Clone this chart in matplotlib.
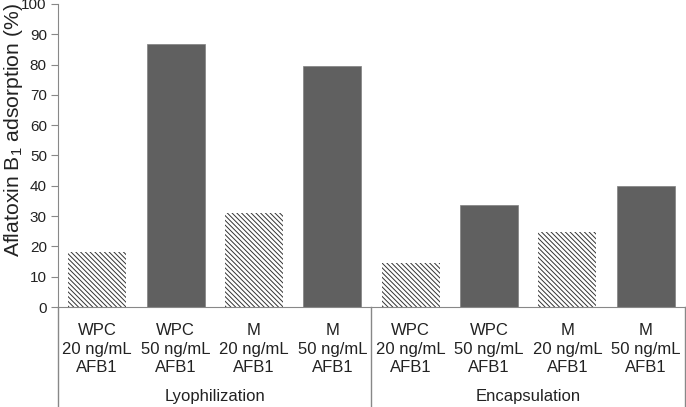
import numpy as np
import matplotlib.pyplot as plt

plt.rcParams['font.family'] = ['Liberation Sans', 'DejaVu Sans']
plt.rcParams['mathtext.fontset'] = 'custom'
plt.rcParams['mathtext.rm'] = 'Liberation Sans'
plt.rcParams['mathtext.it'] = 'Liberation Sans:italic'
plt.rcParams['hatch.linewidth'] = 0.7
plt.rcParams['hatch.color'] = '#333333'

# Data
groups = ['Lyophilization', 'Encapsulation']
categories = ['WPC\n20 ng/mL\nAFB1', 'WPC\n50 ng/mL\nAFB1',
              'M\n20 ng/mL\nAFB1', 'M\n50 ng/mL\nAFB1'] * 2
values = [18, 86.7, 31, 79.4, 14.6, 33.6, 24.7, 40]
hatched = [True, False, True, False, True, False, True, False]

fig = plt.figure(figsize=(6.86, 4.07), dpi=100)
ax = fig.add_axes([0.0845, 0.2457, 0.914, 0.7445])

x = np.arange(len(values))
for xi, v, h in zip(x, values, hatched):
    if h:
        ax.bar(xi, v, width=0.74, color='white', edgecolor='#333333',
               hatch='\\\\\\\\\\\\\\', linewidth=0)
    else:
        ax.bar(xi, v, width=0.74, color='#606060', edgecolor='#808080',
               linewidth=0.5)

ax.set_xlim(-0.5, len(values) - 0.5)
ax.set_ylim(0, 100)
ax.set_yticks(np.arange(0, 101, 10))
ax.tick_params(axis='y', length=5, color='#888888', labelsize=11,
               labelcolor='#222222', pad=3)
ax.set_xticks([])
for s in ['top', 'right']:
    ax.spines[s].set_visible(False)
ax.spines['left'].set_color('#888888')
ax.spines['bottom'].set_color('#888888')

ax.set_ylabel('Aflatoxin B$_1$ adsorption (%)', fontsize=15.2,
              color='#222222', va='center')
ax.yaxis.set_label_coords(-0.0715, 0.584)

# category labels
for xi, lab in zip(x, categories):
    ax.text(xi, -0.139, lab, transform=ax.get_xaxis_transform(),
            ha='center', va='center', fontsize=12, linespacing=1.3,
            color='#222222')

# group labels and dividers
for gi, g in enumerate(groups):
    ax.text(gi * 4 + 1.5, -0.296, g, transform=ax.get_xaxis_transform(),
            ha='center', va='center', fontsize=12, color='#222222')
for xb in [-0.5, 3.5, 7.5]:
    ax.plot([xb, xb], [0, -0.33], transform=ax.get_xaxis_transform(),
            color='#888888', lw=1, clip_on=False)

fig.savefig('out.png', dpi=100)
